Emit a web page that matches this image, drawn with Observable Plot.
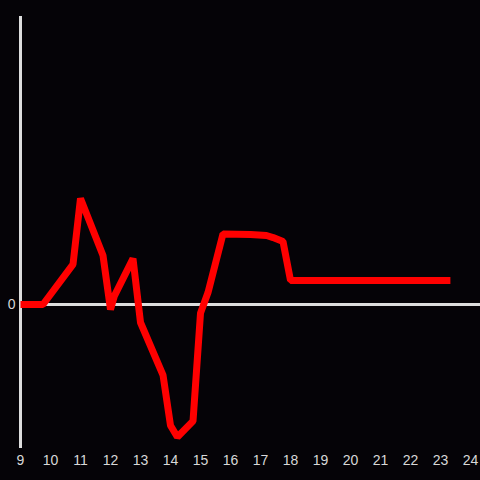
<!DOCTYPE html>
<html>
<head>
<meta charset="utf-8">
<script src="https://cdn.jsdelivr.net/npm/d3@7"></script>
<script src="https://cdn.jsdelivr.net/npm/@observablehq/plot@0.6"></script>
<style>
html, body { margin: 0; padding: 0; background: #050307; }
svg text { font-size: 14px; }
</style>
</head>
<body>
<div id="chart"></div>
<script>
const hours = [9, 9.75, 10.75, 11, 11.75, 12, 12.13, 12.75, 13, 13.75, 14, 14.23, 14.75, 15, 15.25, 15.75, 16.67, 17.2, 17.42, 17.75, 18, 23.33];
const values = [0, 0, 0.278, 0.736, 0.34, -0.035, 0.06, 0.319, -0.125, -0.49, -0.84, -0.92, -0.81, -0.06, 0.083, 0.49, 0.486, 0.479, 0.465, 0.4375, 0.167, 0.167];
const xTicks = [9, 10, 11, 12, 13, 14, 15, 16, 17, 18, 19, 20, 21, 22, 23, 24];
const yTicks = [0];

const data = hours.map((h, i) => ({hour: h, value: values[i]}));

const chart = Plot.plot({
  width: 480,
  height: 480,
  marginTop: 16,
  marginBottom: 32,
  marginLeft: 20,
  marginRight: 10,
  style: {background: "#050307", color: "#d8d8d8", fontFamily: "'Liberation Sans', Arial, sans-serif", fontSize: "14px"},
  x: {domain: [9, 24]},
  y: {domain: [-1, 2]},
  marks: [
    Plot.axisX(xTicks, {tickSize: 0, tickPadding: 7, label: null, tickFormat: d => String(d), fontSize: 14, fill: "#d8d8d8"}),
    Plot.axisY(yTicks, {tickSize: 0, tickPadding: 5, label: null, tickFormat: d => String(d), fontSize: 14, fill: "#d8d8d8"}),
    Plot.ruleY([0], {x1: 9, x2: 24.34, stroke: "#dddddd", strokeWidth: 3, clip: false}),
    Plot.ruleX([9], {y1: -1, y2: 2, stroke: "#dddddd", strokeWidth: 3}),
    Plot.line(data, {x: "hour", y: "value", stroke: "#ff0000", strokeWidth: 7, strokeLinejoin: "miter", strokeLinecap: "butt"})
  ]
});
document.getElementById("chart").appendChild(chart);
</script>
</body>
</html>
